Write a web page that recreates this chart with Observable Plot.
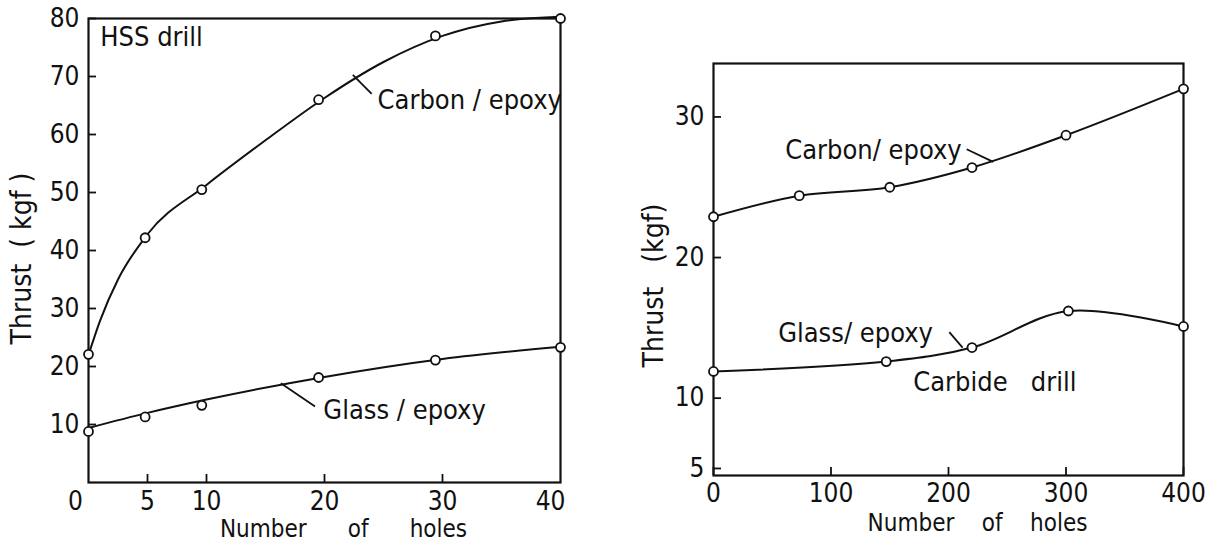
<!DOCTYPE html>
<html><head><meta charset="utf-8">
<script src="https://cdn.jsdelivr.net/npm/d3@7"></script>
<script src="https://cdn.jsdelivr.net/npm/@observablehq/plot@0.6"></script>
<style>
body{margin:0;background:#fff;}
#wrap{display:flex;width:1209px;height:544px;overflow:hidden;}
svg text{font-family:"Liberation Sans Narrow","DejaVu Sans Condensed",sans-serif;}
</style></head><body><div id="wrap"></div>
<script>
// ---- Left panel: HSS drill ----
const hssHoles = [0, 4.8, 9.6, 19.5, 29.4, 40];
const hssCarbon = [22.1, 42.2, 50.5, 66.0, 77.0, 80.0];
const hssGlass = [8.8, 11.3, 13.3, 18.1, 21.1, 23.3];
// smooth fitted curves as drawn in the figure
const hssCarbonFitHoles = [0, 1, 2.5, 5, 10, 15, 20, 25, 30, 35, 40];
const hssCarbonFit = [22.0, 28.0, 35.0, 42.8, 51.3, 59.0, 66.3, 72.5, 77.0, 79.5, 80.3];
const hssGlassFitHoles = [0, 5, 10, 20, 30, 40];
const hssGlassFit = [9.4, 12.0, 14.3, 18.2, 21.3, 23.4];
const hssXTicks = [5, 10, 20, 30];
const hssXEdgeTicks = [0, 40];
const hssYTicks = [10, 20, 30, 40, 50, 60, 70, 80];
const hssLabelText = ["HSS drill", "Carbon / epoxy", "Glass / epoxy"];
const hssLabelX = [1.0, 24.5, 19.9];
const hssLabelY = [76.7, 65.9, 12.5];
const hssLeaderX1 = [22.4, 16.3];
const hssLeaderY1 = [70.3, 17.1];
const hssLeaderX2 = [24.0, 19.2];
const hssLeaderY2 = [67.0, 13.1];

// ---- Right panel: Carbide drill ----
const cbCarbonHoles = [0, 73, 150, 220, 300, 400];
const cbCarbon = [22.9, 24.4, 25.0, 26.4, 28.7, 32.0];
const cbGlassHoles = [0, 147, 220, 302, 400];
const cbGlass = [11.9, 12.6, 13.6, 16.2, 15.1];
const cbXTicks = [0, 100, 200, 300, 400];
const cbYTicks = [5, 10, 20, 30];
const cbLabelText = ["Carbon/ epoxy", "Glass/ epoxy", "Carbide\u00a0\u00a0\u00a0drill"];
const cbLabelX = [61, 55, 170];
const cbLabelY = [27.6, 14.6, 11.1];
const cbLeaderX1 = [215.5, 200.7];
const cbLeaderY1 = [27.7, 14.7];
const cbLeaderX2 = [238, 212];
const cbLeaderY2 = [26.8, 13.6];

const zip = (xs, ys) => xs.map((x, i) => ({x, y: ys[i]}));
const labels = (t, xs, ys) => t.map((s, i) => ({s, x: xs[i], y: ys[i]}));
const leaders = (x1, y1, x2, y2) => x1.map((v, i) => ({x1: v, y1: y1[i], x2: x2[i], y2: y2[i]}));

const FONT = '"Liberation Sans Narrow","DejaVu Sans Condensed",sans-serif';
const INK = "#111";
function panel(o) {
  return Plot.plot({
    width: o.width, height: 544,
    marginLeft: o.ml, marginRight: o.mr, marginTop: o.mt, marginBottom: o.mb,
    style: {fontSize: "26px", fontFamily: FONT, color: INK, background: "white"},
    x: {domain: o.xd},
    y: {domain: o.yd},
    marks: [
      Plot.axisX(o.xt, {anchor: "bottom", tickSize: -8, tickPadding: o.xpad, tickFormat: d => String(d), label: null, strokeWidth: 1.8}),
      ...o.xedge.map(e => Plot.axisX([e.v], {anchor: "bottom", tickSize: 0, tickPadding: o.xpad - 8, dx: e.dx, tickFormat: d => String(d), label: null})),
      Plot.axisY(o.yt, {anchor: "left", tickSize: -8, tickPadding: 17, tickFormat: d => String(d), label: null, strokeWidth: 1.8}),
      Plot.frame({stroke: INK, strokeWidth: 2.2}),
      ...o.lines.map(l => Plot.line(l.data, {x: "x", y: "y", curve: l.curve, stroke: INK, strokeWidth: 2})),
      Plot.link(o.leaders, {x1: "x1", y1: "y1", x2: "x2", y2: "y2", stroke: INK, strokeWidth: 1.8}),
      ...o.points.map(p => Plot.dot(p, {x: "x", y: "y", r: 4.5, fill: "white", stroke: INK, strokeWidth: 1.8})),
      Plot.text(o.labels, {x: "x", y: "y", text: "s", textAnchor: "start", fontSize: 27, fill: INK, fontFamily: FONT}),
      Plot.text([o.xlabel], {frameAnchor: "bottom", dx: o.xldx, dy: o.xldy, text: d => d, fontSize: 24, fill: INK, fontFamily: FONT, textAnchor: "middle", lineAnchor: "middle"}),
      Plot.text([o.ylabel], {frameAnchor: "left", dx: o.yldx, dy: o.yldy, rotate: -90, text: d => d, fontSize: 28, fill: INK, fontFamily: FONT, textAnchor: "middle", lineAnchor: "middle"})
    ]
  });
}

const left = panel({
  width: 600, ml: 88, mr: 40, mt: 18, mb: 62,
  xd: [0, 40], yd: [0, 80], xt: hssXTicks, yt: hssYTicks, xpad: 17,
  xedge: [{v: hssXEdgeTicks[0], dx: -13}, {v: hssXEdgeTicks[1], dx: -10}],
  xlabel: "Number\u00a0\u00a0\u00a0\u00a0\u00a0\u00a0of\u00a0\u00a0\u00a0\u00a0\u00a0\u00a0holes", xldx: 19, xldy: 47,
  ylabel: "Thrust\u00a0\u00a0(\u00a0kgf\u00a0)", yldx: -66, yldy: 8,
  lines: [{data: zip(hssCarbonFitHoles, hssCarbonFit), curve: "monotone-x"}, {data: zip(hssGlassFitHoles, hssGlassFit), curve: "monotone-x"}],
  points: [zip(hssHoles, hssCarbon), zip(hssHoles, hssGlass)],
  labels: labels(hssLabelText, hssLabelX, hssLabelY),
  leaders: leaders(hssLeaderX1, hssLeaderY1, hssLeaderX2, hssLeaderY2)
});
const right = panel({
  width: 609, ml: 113, mr: 26, mt: 63, mb: 69,
  xd: [0, 400], yd: [4.5, 33.8], xt: cbXTicks, yt: cbYTicks, xpad: 16,
  xedge: [],
  xlabel: "Number\u00a0\u00a0\u00a0\u00a0of\u00a0\u00a0\u00a0\u00a0holes", xldx: 29, xldy: 48,
  ylabel: "Thrust\u00a0\u00a0\u00a0(kgf)", yldx: -59, yldy: 16,
  lines: [{data: zip(cbCarbonHoles, cbCarbon), curve: "catmull-rom"}, {data: zip(cbGlassHoles, cbGlass), curve: "catmull-rom"}],
  points: [zip(cbCarbonHoles, cbCarbon), zip(cbGlassHoles, cbGlass)],
  labels: labels(cbLabelText, cbLabelX, cbLabelY),
  leaders: leaders(cbLeaderX1, cbLeaderY1, cbLeaderX2, cbLeaderY2)
});
document.getElementById("wrap").append(left, right);
</script></body></html>
